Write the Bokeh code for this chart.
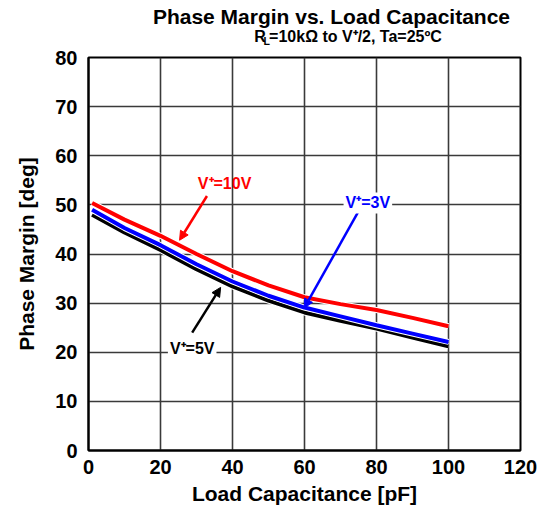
from bokeh.plotting import figure
from bokeh.layouts import column
from bokeh.models import Range1d, Label, Arrow, NormalHead, FixedTicker
from bokeh.embed import file_html
from bokeh.resources import INLINE

cap_pf = [1, 10, 20, 30, 40, 50, 60, 70, 80, 90, 100]
pm_10v = [50.4, 47.0, 43.7, 40.0, 36.5, 33.6, 31.2, 29.8, 28.6, 27.0, 25.3]
pm_3v = [49.0, 45.3, 41.8, 37.9, 34.4, 31.5, 29.1, 27.3, 25.5, 23.8, 22.1]
pm_5v = [48.0, 44.4, 40.8, 36.9, 33.4, 30.5, 28.1, 26.4, 24.8, 23.0, 21.2]

x_ticks = [0, 20, 40, 60, 80, 100, 120]
y_ticks = [0, 10, 20, 30, 40, 50, 60, 70, 80]

title_text = "Phase Margin vs. Load Capacitance"
subtitle_parts = ["R", "L", "=10k\u03a9 to V\u207a/2, Ta=25\u00baC"]

FONT = "Liberation Sans"
W = 537
TH = 46

# ---- title strip ----
t = figure(width=W, height=TH, output_backend="svg", toolbar_location=None,
           x_range=Range1d(0, W), y_range=Range1d(0, TH),
           x_axis_type=None, y_axis_type=None, min_border=0)
t.outline_line_color = None
t.background_fill_color = "white"
t.border_fill_color = "white"

t.add_layout(Label(x=302, y=TH - 16, text=title_text, text_color="black", text_font=FONT,
                   text_font_style="bold", text_font_size="21px",
                   text_align="center", text_baseline="middle"))
sx = 206
sy = TH - 36
t.add_layout(Label(x=sx, y=sy, text=subtitle_parts[0], text_color="black", text_font=FONT,
                   text_font_style="bold", text_font_size="16px",
                   text_align="left", text_baseline="middle"))
t.add_layout(Label(x=sx + 11.5, y=sy - 4, text=subtitle_parts[1], text_color="black", text_font=FONT,
                   text_font_style="bold", text_font_size="10.5px",
                   text_align="left", text_baseline="middle"))
t.add_layout(Label(x=sx + 18.5, y=sy, text=subtitle_parts[2], text_color="black", text_font=FONT,
                   text_font_style="bold", text_font_size="16px",
                   text_align="left", text_baseline="middle"))

# ---- main chart ----
p = figure(width=W, height=510 - TH, output_backend="svg", toolbar_location=None,
           x_range=Range1d(0, 120), y_range=Range1d(0, 80),
           min_border_left=88, min_border_right=17, min_border_top=11, min_border_bottom=60)
p.background_fill_color = "white"
p.border_fill_color = "white"
p.outline_line_color = "black"
p.outline_line_width = 2

for ax in (p.xaxis[0], p.yaxis[0]):
    ax.major_tick_in = 0
    ax.major_tick_out = 0
    ax.minor_tick_in = 0
    ax.minor_tick_out = 0
    ax.axis_line_color = "black"
    ax.axis_line_width = 2
    ax.major_label_text_font = FONT
    ax.major_label_text_font_style = "bold"
    ax.major_label_text_font_size = "20px"
    ax.major_label_text_color = "black"
    ax.axis_label_text_font = FONT
    ax.axis_label_text_font_style = "bold"
    ax.axis_label_text_font_size = "21px"
    ax.axis_label_text_color = "black"

p.xaxis.ticker = FixedTicker(ticks=x_ticks)
p.yaxis.ticker = FixedTicker(ticks=y_ticks)
p.xaxis.axis_label = "Load Capacitance [pF]"
p.yaxis.axis_label = "Phase Margin [deg]"
p.xaxis.major_label_standoff = 9
p.yaxis.major_label_standoff = 11
p.xaxis.axis_label_standoff = 5
p.yaxis.axis_label_standoff = 14

p.grid.grid_line_color = "#3a3a3a"
p.grid.grid_line_width = 1.6

for ys, col in ((pm_5v, "black"), (pm_3v, "#0000ff"), (pm_10v, "#ff0000")):
    p.line(cap_pf, ys, line_color="white", line_width=6)
    p.line(cap_pf, ys, line_color=col, line_width=4)


def lab(x, y, text, color, bg=None):
    l = Label(x=x, y=y, text=text, text_color=color, text_font=FONT, text_font_style="bold",
              text_font_size="16px", text_align="center", text_baseline="middle")
    if bg:
        l.background_fill_color = bg
        l.padding = 2
    p.add_layout(l)


p.add_layout(Arrow(end=NormalHead(size=9, fill_color="#ff0000", line_color="#ff0000"),
                   x_start=32.9, y_start=51.8, x_end=25.3, y_end=42.8,
                   line_color="#ff0000", line_width=2.5))
p.add_layout(Arrow(end=NormalHead(size=9, fill_color="#0000ff", line_color="#0000ff"),
                   x_start=74.8, y_start=48.4, x_end=59.9, y_end=29.0,
                   line_color="#0000ff", line_width=2.5))
p.add_layout(Arrow(end=NormalHead(size=9, fill_color="black", line_color="black"),
                   x_start=28.8, y_start=24.0, x_end=36.7, y_end=33.2,
                   line_color="black", line_width=2.5))

lab(37.8, 54.4, "V\u207a=10V", "#ff0000")
lab(77.6, 50.4, "V\u207a=3V", "#0000ff", bg="white")
lab(28.8, 20.8, "V\u207a=5V", "black", bg="white")

layout = column(t, p, spacing=0)
open("out.html", "w").write(file_html(layout, INLINE))
